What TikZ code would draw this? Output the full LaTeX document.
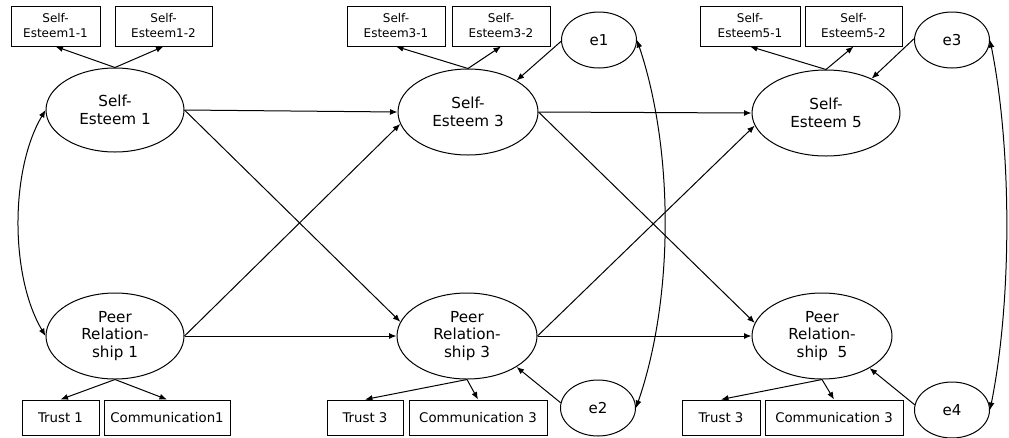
\documentclass[tikz,border=0pt]{standalone}
\usepackage{fontspec}
\setmainfont{DejaVu Sans}
\usetikzlibrary{shapes.geometric,arrows.meta}
\tikzset{
  obsbox/.style={draw, rectangle, inner sep=0pt, align=center, line width=1pt},
  topfont/.style={font=\fontsize{12}{15}\selectfont},
  botfont/.style={font=\fontsize{13.3}{15}\selectfont},
  latent/.style={draw, ellipse, inner sep=0pt, align=center, line width=1pt,
    font=\fontsize{15.2}{17.5}\selectfont},
  errnode/.style={draw, ellipse, inner sep=0pt, line width=1pt,
    minimum width=75pt, minimum height=56pt, font=\fontsize{15}{17}\selectfont},
  conn/.style={-{Latex[length=7.5pt,width=6pt]}, line width=1pt},
  biconn/.style={{Latex[length=7.5pt,width=6pt]}-{Latex[length=7.5pt,width=6pt]}, line width=1pt},
}
\begin{document}
\begin{tikzpicture}[x=1pt,y=-1pt]
\useasboundingbox (0,0) rectangle (1009,437);
% latent variables
\node[latent, minimum width=138pt, minimum height=84pt] (se1) at (115,110) {Self-\\Esteem 1};
\node[latent, minimum width=138pt, minimum height=86pt] (pr1) at (115,336) {Peer\\Relation-\\ship 1};
\node[latent, minimum width=140pt, minimum height=86pt] (se3) at (468,112) {Self-\\Esteem 3};
\node[latent, minimum width=140pt, minimum height=86pt] (pr3) at (467,336) {Peer\\Relation-\\ship 3};
\node[latent, minimum width=148pt, minimum height=86pt] (se5) at (826,113) {Self-\\Esteem 5};
\node[latent, minimum width=140pt, minimum height=86pt] (pr5) at (822,336) {Peer\\Relation-\\ship\ \ 5};
% error terms
\node[errnode] (e1) at (599,40) {e1};
\node[errnode] (e2) at (598,408) {e2};
\node[errnode] (e3) at (952,40) {e3};
\node[errnode] (e4) at (952,410) {e4};
% top indicator boxes
\node[obsbox, topfont, minimum width=89pt, minimum height=40pt] (b11) at (55.5,26) {Self-\\Esteem1-1};
\node[obsbox, topfont, minimum width=97pt, minimum height=40pt] (b12) at (163.5,26) {Self-\\Esteem1-2};
\node[obsbox, topfont, minimum width=98pt, minimum height=40pt] (b31) at (396,26) {Self-\\Esteem3-1};
\node[obsbox, topfont, minimum width=98pt, minimum height=40pt] (b32) at (501,26) {Self-\\Esteem3-2};
\node[obsbox, topfont, minimum width=100pt, minimum height=40pt] (b51) at (750,26) {Self-\\Esteem5-1};
\node[obsbox, topfont, minimum width=97pt, minimum height=40pt] (b52) at (853.5,26) {Self-\\Esteem5-2};
% bottom indicator boxes
\node[obsbox, botfont, minimum width=77pt, minimum height=35pt] (t1) at (60.5,417.5) {Trust 1};
\node[obsbox, botfont, minimum width=126pt, minimum height=35pt] (c1) at (167,417.5) {Communication1};
\node[obsbox, botfont, minimum width=76pt, minimum height=35pt] (t3) at (365,417.5) {Trust 3};
\node[obsbox, botfont, minimum width=138pt, minimum height=35pt] (c3) at (478,417.5) {Communication 3};
\node[obsbox, botfont, minimum width=78pt, minimum height=35pt] (t5) at (721,417.5) {Trust 3};
\node[obsbox, botfont, minimum width=138pt, minimum height=35pt] (c5) at (834,417.5) {Communication 3};
% loadings
\draw[conn] (se1.north) -- (b11.south);
\draw[conn] (se1.north) -- (b12.south);
\draw[conn] (se3.north) -- (b31.south);
\draw[conn] (se3.north) -- (b32.south);
\draw[conn] (se5.north) -- (b51.south);
\draw[conn] (se5.north) -- (b52.south);
\draw[conn] (pr1.south) -- (t1.north);
\draw[conn] (pr1.south) -- (c1.north);
\draw[conn] (pr3.south) -- (t3.north);
\draw[conn] (pr3.south) -- (c3.north);
\draw[conn] (pr5.south) -- (t5.north);
\draw[conn] (pr5.south) -- (c5.north);
% structural paths
\draw[conn] (se1.east) -- (se3.west);
\draw[conn] (se1.east) -- (pr3.168);
\draw[conn] (pr1.east) -- (pr3.west);
\draw[conn] (pr1.east) -- (se3.190);
\draw[conn] (se3.east) -- (se5.west);
\draw[conn] (se3.east) -- (pr5.169);
\draw[conn] (pr3.east) -- (pr5.west);
\draw[conn] (pr3.east) -- (se5.190);
% errors
\draw[conn] (e1.182) -- (se3.33);
\draw[conn] (e2.172) -- (pr3.-32);
\draw[conn] (e3.178) -- (se5.37);
\draw[conn] (e4.172) -- (pr5.-34);
% covariances
\draw[biconn] (se1.west) .. controls (10,170) and (10,276) .. (pr1.west);
\draw[biconn] (e1.east) .. controls (674,150) and (674,298) .. (e2.east);
\draw[biconn] (e3.east) .. controls (1012,150) and (1012,300) .. (e4.east);
\end{tikzpicture}
\end{document}
